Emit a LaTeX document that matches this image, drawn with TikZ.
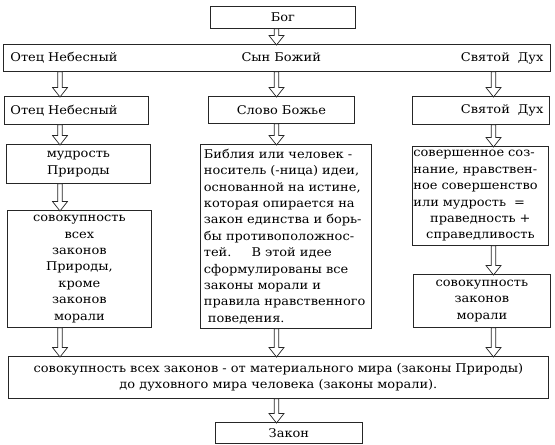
\documentclass[tikz,border=0pt]{standalone}
\usepackage{fontspec}
\setmainfont{DejaVu Serif}[FakeStretch=1.08]
\usetikzlibrary{positioning,calc}

% hollow block arrow: #1 = start point, #2 = tip point
\newcommand{\blockarrow}[2]{%
  \draw[harr] ($(#1)+(-2.2,0)$) -- ($(#2)+(-2.2,-8.5)$) -- ($(#2)+(-7.5,-8.5)$)
    -- ($(#2)+(0,1)$) -- ($(#2)+(7.5,-8.5)$) -- ($(#2)+(2.2,-8.5)$) -- ($(#1)+(2.2,0)$) -- cycle;}

\begin{document}
\begin{tikzpicture}[
  x=1pt,y=-1pt,
  box/.style={draw=black!85,line width=0.8pt,inner sep=0pt,anchor=north west,
    font=\fontsize{12}{16.4}\selectfont},
  harr/.style={draw=black!85,line width=0.7pt,fill=white,line join=miter}
]
\useasboundingbox (0,0) rectangle (555,445);

% columns of the arrows
\coordinate (colA) at (60,0);
\coordinate (colB) at (276.5,0);
\coordinate (colC) at (493.5,0);

\node[box,minimum width=145pt,minimum height=22pt] (god) at (210,6) {Бог};
\node[box,minimum width=547pt,minimum height=27pt,text width=533pt] (trin) at (3,44)
  {Отец Небесный\hfill Сын Божий\hfill\hspace{16pt}Святой\ \ Дух};

\node[box,minimum width=144pt,minimum height=28pt,text width=132pt] (otec) at (4,96) {Отец Небесный};
\node[box,minimum width=146pt,minimum height=27pt] (slovo) at (208,96) {Слово Божье};
\node[box,minimum width=137pt,minimum height=28pt,text width=125pt,align=right] (duh) at (412,96) {Святой\ \ Дух};

\node[box,minimum width=144pt,minimum height=39pt,align=center] (mudr) at (6,144) {мудрость\\Природы};
\node[box,minimum width=144pt,minimum height=117pt,align=center] (nature) at (7,210)
  {совокупность\\всех\\законов\\Природы,\\кроме\\законов\\морали};

\node[box,minimum width=171pt,minimum height=184pt,text width=164pt,align=left] (bible) at (200,144)
  {Библия или человек -\\носитель (-ница) идеи,\\основанной на истине,\\которая опирается на\\закон единства и борь-\\бы противоположнос-\\тей.\quad\ \ В этой идее\\сформулированы все\\законы морали и\\правила нравственного\\\ поведения.};

\node[box,minimum width=136pt,minimum height=99pt,text width=134pt,align=left] (perf) at (412,146)
  {совершенное соз-\\нание, нравствен-\\ное совершенство\\или мудрость\ \ =\\\makebox[\linewidth]{праведность +}\\\makebox[\linewidth]{справедливость}};
\node[box,minimum width=137pt,minimum height=53pt,align=center] (moral) at (413,274)
  {совокупность\\законов\\морали};

\node[box,minimum width=540pt,minimum height=42pt,align=center] (total) at (8,356)
  {совокупность всех законов - от материального мира (законы Природы)\\до духовного мира человека (законы морали).};
\node[box,minimum width=147pt,minimum height=21pt] (zakon) at (215,422) {Закон};

\blockarrow{god.south -| colB}{trin.north -| colB}
\blockarrow{trin.south -| colA}{otec.north -| colA}
\blockarrow{trin.south -| colB}{slovo.north -| colB}
\blockarrow{trin.south -| colC}{duh.north -| colC}
\blockarrow{otec.south -| colA}{mudr.north -| colA}
\blockarrow{slovo.south -| colB}{bible.north -| colB}
\blockarrow{duh.south -| colC}{perf.north -| colC}
\blockarrow{mudr.south -| colA}{nature.north -| colA}
\blockarrow{perf.south -| colC}{moral.north -| colC}
\blockarrow{nature.south -| colA}{total.north -| colA}
\blockarrow{bible.south -| colB}{total.north -| colB}
\blockarrow{moral.south -| colC}{total.north -| colC}
\blockarrow{total.south -| colB}{zakon.north -| colB}
\end{tikzpicture}
\end{document}
